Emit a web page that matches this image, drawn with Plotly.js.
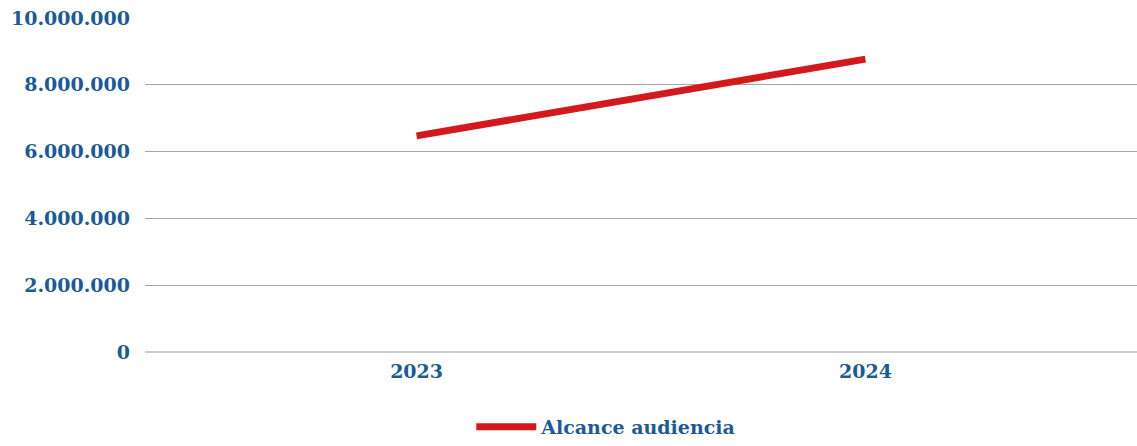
<!DOCTYPE html>
<html>
<head>
<meta charset="utf-8">
<script src="https://cdn.plot.ly/plotly-3.0.1.min.js"></script>
<style>html,body{margin:0;padding:0;background:#fff}#chart{width:1137px;height:446px}</style>
</head>
<body>
<div id="chart"></div>
<script>
const categories = ["2023", "2024"];
const alcanceAudiencia = [6470000, 8770000];
const seriesName = "Alcance audiencia";
const yTickVals = [0, 2000000, 4000000, 6000000, 8000000, 10000000];
const yTickText = ["0", "2.000.000", "4.000.000", "6.000.000", "8.000.000", "10.000.000"];

const fontFam = "'DejaVu Serif', serif";
const blue = "#1a5a96";

Plotly.newPlot("chart", [{
  x: categories,
  y: alcanceAudiencia,
  name: seriesName,
  type: "scatter",
  mode: "lines",
  line: {color: "#d2191b", width: 7},
  showlegend: true,
  hoverinfo: "skip"
}], {
  width: 1137, height: 446,
  margin: {l: 145, r: 0, t: 18, b: 0},
  paper_bgcolor: "#fff", plot_bgcolor: "#fff",
  font: {family: fontFam, color: blue, size: 19},
  xaxis: {
    type: "category",
    range: [-0.605, 1.605],
    showgrid: false, zeroline: false, showline: false,
    ticks: "", ticklabelstandoff: 6,
    tickfont: {family: fontFam, color: blue, size: 19, weight: "bold"},
    fixedrange: true
  },
  yaxis: {
    range: [0, 10000000],
    domain: [0.2196, 1],
    tickvals: yTickVals, ticktext: yTickText,
    showgrid: true, gridcolor: "#a6a6a6", gridwidth: 1,
    zeroline: true, zerolinecolor: "#cccccc", zerolinewidth: 1.5,
    showline: false, ticks: "", ticklabelstandoff: 14,
    tickfont: {family: fontFam, color: blue, size: 19, weight: "bold"},
    fixedrange: true
  },
  legend: {
    orientation: "h", x: 0.465, xanchor: "center", xref: "paper",
    y: 0, yanchor: "bottom",
    font: {family: fontFam, color: blue, size: 19, weight: "bold"},
    itemwidth: 60
  },
  showlegend: true
}, {displayModeBar: false, staticPlot: true});
</script>
</body>
</html>
